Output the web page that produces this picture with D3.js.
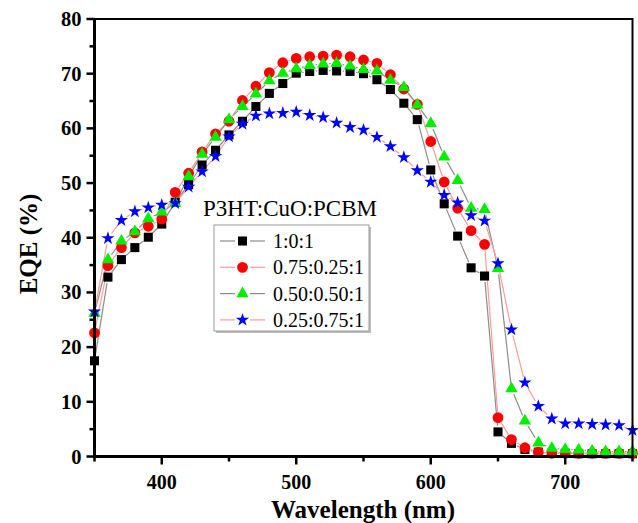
<!DOCTYPE html>
<html>
<head>
<meta charset="utf-8">
<script src="https://cdn.jsdelivr.net/npm/d3@7"></script>
<style>
  html, body { margin: 0; padding: 0; background: #fff; }
  svg { display: block; font-family: "Liberation Serif", "Times New Roman", serif; }
</style>
</head>
<body>
<div id="chart"></div>
<script>
// wavelength (nm), 10 nm steps
const wavelengths = d3.range(350, 751, 10);

const eqe_1_0_1 = [17.5, 32.8, 36.0, 38.2, 40.1, 42.5, 46.5, 49.7, 53.3, 56.0, 58.8, 61.3, 64.0, 66.4, 68.2, 70.1, 70.4, 70.6, 70.5, 70.4, 70.0, 68.9, 67.1, 64.6, 61.6, 52.4, 46.2, 40.3, 34.5, 33.0, 4.5, 2.4, 1.3, 0.8, 0.6, 0.6, 0.5, 0.5, 0.5, 0.5, 0.5];
const eqe_075_025_1 = [22.6, 34.9, 38.2, 40.9, 42.1, 43.4, 48.3, 51.8, 55.7, 59.0, 61.3, 65.1, 67.7, 70.2, 72.0, 72.8, 73.1, 73.2, 73.4, 73.1, 72.5, 71.9, 69.8, 67.2, 64.4, 57.6, 50.2, 45.4, 41.3, 38.8, 7.1, 3.1, 1.6, 0.8, 0.6, 0.6, 0.6, 0.6, 0.6, 0.6, 0.6];
const eqe_050_050_1 = [26.2, 36.0, 39.4, 41.1, 43.5, 44.7, 46.3, 51.2, 55.3, 58.4, 61.6, 64.0, 66.3, 68.7, 70.1, 70.9, 71.5, 71.8, 71.9, 71.4, 70.8, 70.5, 68.8, 67.5, 64.3, 60.9, 54.8, 50.5, 45.4, 45.2, 34.4, 12.4, 6.5, 2.5, 1.5, 1.3, 1.2, 1.0, 0.9, 0.9, 0.9];
const eqe_025_075_1 = [26.5, 39.9, 43.2, 44.8, 45.5, 46.0, 46.3, 49.3, 52.1, 54.9, 58.5, 60.8, 62.3, 62.7, 62.8, 63.0, 62.4, 62.0, 61.0, 60.2, 59.7, 58.4, 56.7, 54.7, 52.3, 50.2, 47.8, 46.4, 44.1, 43.1, 35.3, 23.2, 13.5, 9.2, 6.9, 6.0, 6.0, 5.9, 5.8, 5.7, 4.8];

const seriesNames = ['1:0:1', '0.75:0.25:1', '0.50:0.50:1', '0.25:0.75:1'];
const legendTitle = 'P3HT:CuO:PCBM';
const xTicks = [400, 500, 600, 700];
const yTicks = [0, 10, 20, 30, 40, 50, 60, 70, 80];

// Estils per sèrie
const styles = [
    { values: eqe_1_0_1, fill: '#000000', line: '#8c8c8c', symbol: d3.symbolSquare, size: 82 },
    { values: eqe_075_025_1, fill: '#ff0000', line: '#ff9a9a', symbol: d3.symbolCircle, size: 92 },
    { values: eqe_050_050_1, fill: '#00ee00', line: '#8c8c8c', symbol: d3.symbolTriangle, size: 66 },
    { values: eqe_025_075_1, fill: '#0000ff', line: '#ff9a9a', symbol: d3.symbolStar, size: 55 }
];

const W = 638, H = 523;
const svg = d3.select('#chart').append('svg')
    .attr('width', W)
    .attr('height', H);

const x = d3.scaleLinear().domain([350, 750]).range([94.5, 632.5]);
const y = d3.scaleLinear().domain([0, 80]).range([456.5, 19]);

// Línies amb buit al voltant dels símbols
const gap = 6;
styles.forEach(s => {
    const pts = wavelengths.map((w, i) => [x(w), y(s.values[i])]);
    const g = svg.append('g');
    for (let i = 0; i < pts.length - 1; i++) {
        const [x0, y0] = pts[i], [x1, y1] = pts[i + 1];
        const len = Math.hypot(x1 - x0, y1 - y0);
        if (len <= 2 * gap + 1) continue;
        const ux = (x1 - x0) / len, uy = (y1 - y0) / len;
        g.append('line')
            .attr('x1', x0 + ux * gap).attr('y1', y0 + uy * gap)
            .attr('x2', x1 - ux * gap).attr('y2', y1 - uy * gap)
            .attr('stroke', s.line)
            .attr('stroke-width', 1.2);
    }
});

// Símbols
styles.forEach(s => {
    svg.append('g').selectAll('path')
        .data(wavelengths.map((w, i) => ({ w, v: s.values[i] })))
        .enter()
        .append('path')
        .attr('transform', d => `translate(${x(d.w)},${y(d.v)})`)
        .attr('d', d3.symbol().type(s.symbol).size(s.size))
        .attr('fill', s.fill);
});

// Marc
svg.append('rect')
    .attr('x', x(350)).attr('y', y(80))
    .attr('width', x(750) - x(350)).attr('height', y(0) - y(80))
    .attr('fill', 'none')
    .attr('stroke', '#000')
    .attr('stroke-width', 2);

// Eix X
const xAxis = svg.append('g').attr('transform', `translate(0,${y(0)})`);
xAxis.append('line')
    .attr('x1', x(350) - 1.5).attr('x2', x(750) + 1)
    .attr('stroke', '#000').attr('stroke-width', 3);
d3.range(350, 751, 50).forEach(t => {
    xAxis.append('line')
        .attr('x1', x(t)).attr('x2', x(t))
        .attr('y1', 0).attr('y2', t % 100 === 0 ? 8 : 5)
        .attr('stroke', '#000').attr('stroke-width', 2.5);
});
xAxis.selectAll('text.tick')
    .data(xTicks)
    .enter()
    .append('text')
    .attr('class', 'tick')
    .attr('x', d => x(d))
    .attr('y', 32)
    .attr('text-anchor', 'middle')
    .attr('font-size', 20)
    .attr('font-weight', 'bold')
    .text(d => d);

// Eix Y
const yAxis = svg.append('g').attr('transform', `translate(${x(350)},0)`);
yAxis.append('line')
    .attr('y1', y(80) - 1).attr('y2', y(0) + 1.5)
    .attr('stroke', '#000').attr('stroke-width', 3);
d3.range(0, 81, 5).forEach(t => {
    yAxis.append('line')
        .attr('y1', y(t)).attr('y2', y(t))
        .attr('x1', 0).attr('x2', t % 10 === 0 ? -8 : -5)
        .attr('stroke', '#000').attr('stroke-width', 2.5);
});
yAxis.selectAll('text.tick')
    .data(yTicks)
    .enter()
    .append('text')
    .attr('class', 'tick')
    .attr('x', -13)
    .attr('y', d => y(d) + 7)
    .attr('text-anchor', 'end')
    .attr('font-size', 20.5)
    .attr('font-weight', 'bold')
    .text(d => d);

// Títols d'eixos
svg.append('text')
    .attr('x', 363)
    .attr('y', 518)
    .attr('text-anchor', 'middle')
    .attr('font-size', 25)
    .attr('font-weight', 'bold')
    .text('Wavelength (nm)');

svg.append('text')
    .attr('transform', 'translate(37,244) rotate(-90)')
    .attr('text-anchor', 'middle')
    .attr('font-size', 25)
    .attr('font-weight', 'bold')
    .text('EQE (%)');

// Llegenda
svg.append('text')
    .attr('x', 203)
    .attr('y', 216)
    .attr('font-size', 23)
    .text(legendTitle);

const lg = svg.append('g');
lg.append('rect')
    .attr('x', 216).attr('y', 227)
    .attr('width', 155).attr('height', 106)
    .attr('fill', '#bdbdbd');
lg.append('rect')
    .attr('x', 214).attr('y', 225)
    .attr('width', 155).attr('height', 106)
    .attr('fill', '#fff')
    .attr('stroke', '#9a9a9a')
    .attr('stroke-width', 1);

styles.forEach((s, i) => {
    const cy = 241 + i * 26.3;
    const row = lg.append('g');
    row.append('line')
        .attr('x1', 220).attr('x2', 235).attr('y1', cy).attr('y2', cy)
        .attr('stroke', s.line).attr('stroke-width', 1.2);
    row.append('line')
        .attr('x1', 250).attr('x2', 265).attr('y1', cy).attr('y2', cy)
        .attr('stroke', s.line).attr('stroke-width', 1.2);
    row.append('path')
        .attr('transform', `translate(242.5,${cy})`)
        .attr('d', d3.symbol().type(s.symbol).size(s.size))
        .attr('fill', s.fill);
    row.append('text')
        .attr('x', 273)
        .attr('y', cy + 7)
        .attr('font-size', 20)
        .text(seriesNames[i]);
});
</script>
</body>
</html>
